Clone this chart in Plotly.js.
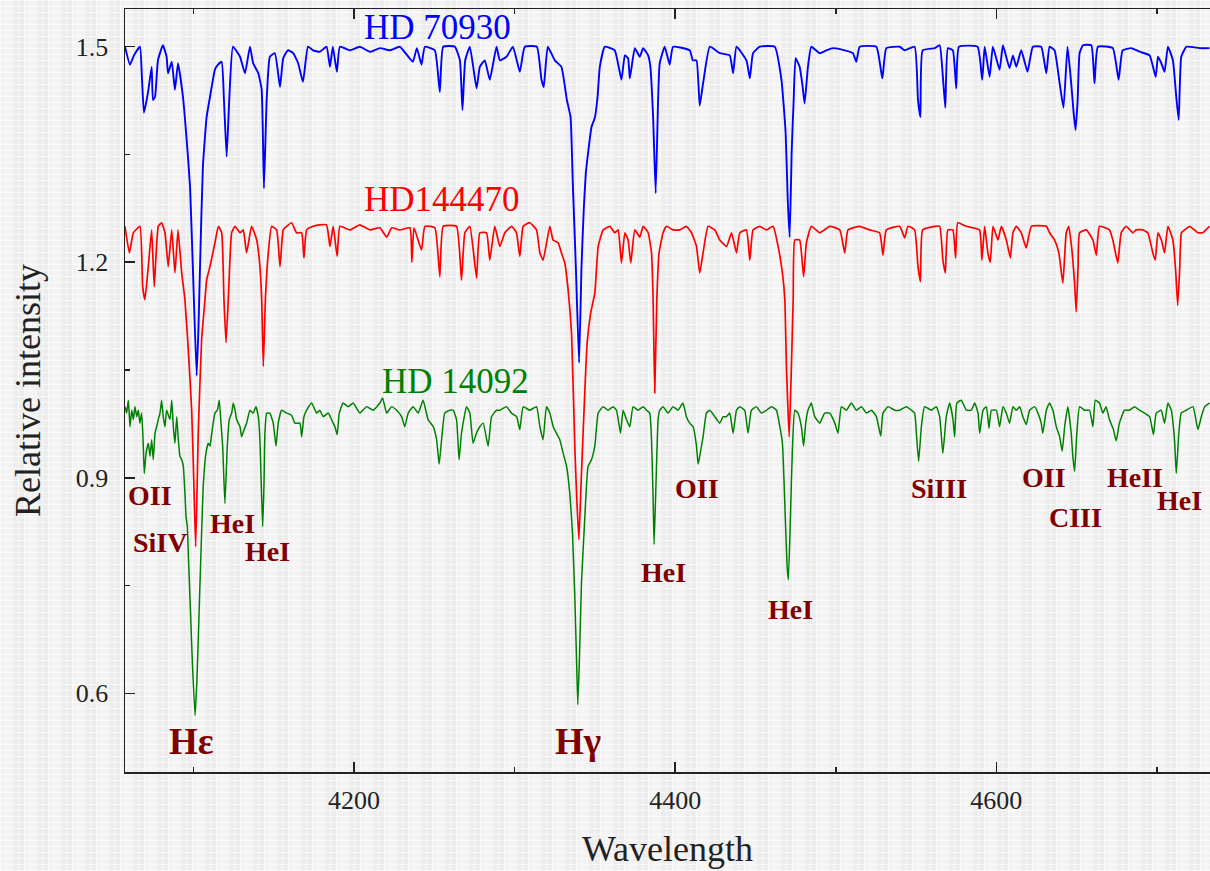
<!DOCTYPE html>
<html>
<head>
<meta charset="utf-8">
<script src="https://cdn.plot.ly/plotly-3.0.1.min.js"></script>
<style>
html,body{margin:0;padding:0;}
body{
  width:1210px;height:871px;overflow:hidden;
  background-color:#ececec;
  background-image:
    repeating-linear-gradient(90deg, rgba(255,255,255,0.55) 0px, rgba(255,255,255,0.55) 1px, transparent 1px, transparent 6px),
    repeating-linear-gradient(0deg, rgba(255,255,255,0.55) 0px, rgba(255,255,255,0.55) 1px, transparent 1px, transparent 6px),
    repeating-linear-gradient(90deg, rgba(255,255,255,0.35) 0px, rgba(255,255,255,0.35) 12px, transparent 12px, transparent 24px);
}
#chart{width:1210px;height:871px;}
</style>
</head>
<body>
<div id="chart"></div>
<script>
// ---------- HD 70930 (blue) ----------
const wl_blue = [4057.5,4060.6,4063.1,4066.8,4068.1,4069.3,4071.8,4074.1,4074.9,4076.2,4078.0,4081.1,4083.4,4084.3,4086.6,4088.6,4090.5,4093.6,4095.9,4098.0,4099.8,4102.1,4103.2,4104.2,4106.0,4108.3,4110.4,4113.5,4115.4,4117.7,4119.1,4120.8,4122.4,4124.7,4129.1,4132.2,4135.3,4137.3,4140.5,4142.6,4144.0,4145.7,4147.7,4150.8,4154.0,4156.0,4158.9,4162.2,4165.3,4168.3,4171.4,4174.5,4178.8,4183.0,4185.1,4186.9,4189.4,4191.3,4197.5,4203.7,4210.0,4216.2,4222.4,4228.6,4236.7,4239.2,4242.1,4244.2,4250.4,4253.5,4255.6,4262.9,4266.0,4267.6,4269.3,4272.2,4276.4,4278.4,4281.5,4284.6,4288.8,4290.9,4295.0,4299.0,4303.3,4306.4,4313.9,4316.8,4318.2,4320.7,4325.1,4329.2,4332.6,4334.9,4336.3,4338.2,4340.2,4341.7,4343.1,4344.4,4345.8,4347.9,4350.0,4351.7,4353.1,4356.2,4362.4,4366.6,4368.7,4370.7,4371.8,4374.9,4378.0,4380.1,4383.2,4384.6,4386.3,4387.9,4389.4,4390.4,4393.5,4396.6,4398.7,4409.1,4411.0,4413.3,4415.3,4417.4,4421.6,4427.8,4434.0,4436.1,4438.2,4444.4,4446.5,4448.5,4452.7,4462.0,4466.2,4468.8,4470.1,4471.3,4472.6,4473.8,4475.0,4477.5,4479.4,4480.6,4482.7,4484.8,4490.0,4494.2,4498.3,4505.6,4510.7,4512.8,4514.9,4525.3,4529.0,4531.5,4539.8,4542.9,4549.1,4551.2,4552.7,4554.1,4561.6,4564.7,4566.7,4568.2,4569.8,4572.9,4575.0,4576.7,4588.3,4591.2,4592.7,4595.8,4597.8,4602.0,4604.1,4608.2,4610.3,4612.4,4615.5,4619.4,4622.7,4627.9,4631.1,4633.1,4636.2,4639.4,4641.8,4644.3,4646.6,4648.1,4649.3,4650.6,4651.8,4653.9,4659.1,4661.1,4663.2,4672.5,4676.1,4678.6,4684.0,4689.2,4695.4,4699.2,4700.6,4702.7,4704.7,4706.8,4709.9,4712.0,4713.5,4715.1,4718.3,4726.5,4732.7];
const fx_blue = [1.500,1.475,1.488,1.500,1.454,1.408,1.436,1.472,1.426,1.430,1.481,1.502,1.486,1.463,1.479,1.440,1.477,1.430,1.370,1.305,1.189,1.042,1.106,1.193,1.333,1.402,1.430,1.468,1.475,1.479,1.426,1.347,1.426,1.500,1.486,1.463,1.500,1.477,1.463,1.440,1.303,1.426,1.486,1.491,1.444,1.484,1.495,1.491,1.477,1.451,1.500,1.495,1.493,1.500,1.472,1.500,1.465,1.500,1.495,1.500,1.493,1.498,1.495,1.500,1.479,1.498,1.475,1.500,1.495,1.437,1.500,1.500,1.481,1.412,1.481,1.500,1.442,1.472,1.481,1.454,1.500,1.481,1.486,1.500,1.465,1.500,1.500,1.454,1.444,1.500,1.481,1.472,1.426,1.402,1.310,1.193,1.060,1.193,1.273,1.324,1.352,1.388,1.401,1.430,1.472,1.500,1.495,1.454,1.488,1.484,1.456,1.498,1.486,1.498,1.488,1.472,1.402,1.296,1.426,1.477,1.500,1.475,1.500,1.495,1.481,1.481,1.418,1.449,1.500,1.491,1.488,1.463,1.500,1.481,1.456,1.491,1.500,1.500,1.454,1.380,1.287,1.235,1.356,1.426,1.484,1.472,1.444,1.421,1.472,1.500,1.491,1.495,1.498,1.495,1.491,1.479,1.500,1.500,1.456,1.498,1.500,1.495,1.500,1.426,1.402,1.495,1.498,1.502,1.458,1.415,1.498,1.495,1.442,1.500,1.500,1.454,1.500,1.458,1.500,1.468,1.502,1.470,1.488,1.472,1.495,1.465,1.500,1.500,1.463,1.500,1.495,1.449,1.415,1.500,1.449,1.408,1.384,1.426,1.491,1.502,1.502,1.449,1.500,1.498,1.454,1.495,1.498,1.493,1.488,1.458,1.486,1.477,1.465,1.500,1.481,1.430,1.398,1.486,1.500,1.498,1.498];

// ---------- HD144470 (red) ----------
const wl_red = [4057.5,4060.2,4062.7,4066.8,4068.5,4069.9,4072.0,4074.1,4075.7,4078.2,4080.3,4082.4,4084.4,4086.6,4088.6,4090.5,4092.8,4094.8,4096.9,4099.0,4100.3,4101.5,4102.5,4103.1,4105.2,4107.3,4108.3,4110.4,4113.5,4115.6,4117.7,4119.1,4120.4,4121.8,4123.9,4126.0,4129.1,4131.1,4133.2,4136.3,4139.5,4141.5,4142.6,4143.6,4144.9,4146.7,4148.8,4151.9,4154.0,4156.0,4158.1,4161.2,4164.3,4167.5,4168.9,4170.6,4174.7,4178.8,4183.0,4185.1,4187.1,4189.6,4191.3,4197.5,4203.7,4210.0,4216.2,4220.4,4223.6,4228.6,4234.9,4236.1,4237.4,4242.1,4244.2,4250.4,4253.5,4255.6,4263.9,4267.0,4269.1,4272.2,4276.4,4278.4,4282.6,4284.6,4287.7,4290.9,4294.0,4298.1,4301.2,4303.3,4305.4,4309.5,4313.7,4315.8,4317.8,4322.0,4324.0,4327.2,4329.2,4331.3,4333.4,4335.5,4337.6,4338.8,4340.1,4341.3,4342.7,4345.2,4347.4,4350.0,4352.1,4355.2,4359.4,4362.4,4364.5,4366.6,4368.7,4370.7,4372.4,4374.9,4378.0,4380.1,4383.2,4385.3,4386.3,4387.3,4388.6,4390.0,4392.5,4394.6,4398.7,4402.9,4407.0,4410.2,4413.3,4415.3,4417.4,4420.5,4424.7,4427.8,4432.0,4435.1,4438.2,4440.3,4444.4,4446.5,4448.5,4452.7,4456.8,4461.0,4464.1,4466.8,4468.3,4469.3,4471.0,4472.4,4473.5,4474.5,4477.5,4480.0,4481.7,4484.8,4490.0,4496.2,4502.5,4505.6,4507.6,4514.9,4521.1,4527.3,4529.4,4531.5,4539.8,4542.9,4545.0,4549.1,4551.2,4552.7,4554.1,4561.6,4564.7,4566.7,4568.2,4569.8,4572.9,4574.6,4576.0,4581.3,4589.5,4591.0,4592.7,4594.7,4596.2,4597.9,4601.0,4603.1,4606.2,4608.7,4610.3,4612.4,4615.5,4618.6,4621.8,4631.1,4633.1,4636.2,4638.9,4641.4,4643.5,4645.1,4647.2,4648.7,4649.7,4650.8,4651.8,4656.0,4660.1,4662.2,4664.2,4670.4,4672.5,4675.6,4677.7,4680.8,4685.0,4687.0,4691.2,4694.3,4697.4,4698.9,4700.6,4702.7,4704.7,4706.8,4709.9,4711.6,4712.9,4714.1,4715.2,4717.2,4720.3,4725.5,4728.4,4732.7];
const fx_red = [1.250,1.213,1.241,1.250,1.166,1.148,1.194,1.245,1.166,1.250,1.255,1.241,1.194,1.245,1.185,1.245,1.185,1.148,1.078,0.995,0.897,0.804,0.897,0.962,1.092,1.148,1.175,1.194,1.227,1.250,1.241,1.148,1.088,1.148,1.241,1.250,1.241,1.245,1.213,1.250,1.231,1.194,1.148,1.055,1.148,1.213,1.250,1.245,1.194,1.245,1.250,1.255,1.241,1.241,1.206,1.245,1.250,1.252,1.252,1.222,1.250,1.208,1.250,1.245,1.252,1.245,1.248,1.235,1.248,1.245,1.248,1.200,1.248,1.217,1.250,1.248,1.180,1.250,1.250,1.175,1.241,1.250,1.178,1.241,1.241,1.203,1.250,1.222,1.241,1.250,1.241,1.208,1.250,1.255,1.245,1.213,1.203,1.250,1.231,1.227,1.213,1.199,1.161,1.101,0.939,0.869,0.814,0.883,0.962,1.087,1.129,1.157,1.222,1.245,1.250,1.241,1.245,1.199,1.241,1.231,1.199,1.245,1.235,1.250,1.241,1.213,1.148,1.018,1.148,1.213,1.241,1.250,1.245,1.245,1.250,1.241,1.222,1.185,1.213,1.250,1.245,1.231,1.222,1.241,1.213,1.241,1.245,1.203,1.245,1.250,1.245,1.250,1.222,1.185,1.148,1.055,0.957,1.055,1.148,1.231,1.231,1.180,1.227,1.250,1.241,1.250,1.245,1.213,1.245,1.250,1.245,1.241,1.210,1.245,1.250,1.234,1.250,1.245,1.194,1.173,1.245,1.250,1.250,1.203,1.185,1.245,1.245,1.206,1.255,1.250,1.245,1.203,1.250,1.213,1.200,1.250,1.231,1.250,1.231,1.206,1.241,1.250,1.241,1.220,1.250,1.250,1.241,1.231,1.213,1.171,1.241,1.250,1.213,1.171,1.131,1.189,1.241,1.245,1.231,1.210,1.250,1.245,1.231,1.199,1.241,1.250,1.241,1.245,1.245,1.241,1.213,1.203,1.241,1.231,1.213,1.250,1.231,1.189,1.140,1.189,1.241,1.245,1.250,1.241,1.241,1.250];

// ---------- HD 14092 (green) ----------
const wl_green = [4057.5,4058.5,4059.6,4060.6,4061.7,4062.7,4063.7,4064.8,4065.8,4066.8,4067.9,4068.9,4069.5,4070.6,4072.0,4073.1,4074.1,4075.1,4076.2,4077.2,4078.2,4079.3,4080.3,4081.3,4082.4,4083.4,4085.5,4086.6,4087.6,4088.6,4089.7,4090.7,4091.7,4092.8,4093.8,4094.8,4095.5,4096.3,4096.9,4098.0,4099.5,4101.1,4102.3,4104.2,4105.2,4106.2,4107.9,4109.3,4110.4,4111.5,4113.5,4115.0,4116.2,4117.1,4118.3,4119.7,4121.2,4122.4,4123.9,4124.9,4126.0,4127.0,4129.1,4130.1,4131.6,4133.2,4135.3,4137.3,4139.0,4140.5,4141.5,4142.3,4143.2,4144.0,4144.6,4145.7,4147.7,4149.8,4151.5,4152.9,4155.0,4158.1,4161.2,4163.3,4166.4,4167.5,4168.9,4170.6,4173.7,4176.8,4178.8,4180.9,4184.0,4186.1,4188.2,4189.6,4190.9,4193.3,4196.5,4199.6,4203.7,4207.9,4212.0,4216.2,4217.9,4220.4,4223.5,4226.6,4229.7,4231.7,4233.8,4236.9,4240.0,4243.1,4246.2,4249.4,4251.5,4253.1,4254.6,4256.6,4259.7,4261.8,4263.9,4265.5,4267.0,4270.1,4272.2,4274.2,4276.3,4278.4,4280.5,4283.6,4285.7,4288.8,4290.9,4295.0,4298.1,4301.3,4303.3,4305.4,4309.5,4313.7,4315.8,4317.8,4319.9,4322.0,4324.1,4326.1,4328.2,4330.3,4332.4,4334.4,4336.1,4337.6,4338.7,4339.4,4340.4,4341.7,4343.8,4345.8,4347.9,4350.0,4352.1,4355.2,4358.3,4361.4,4363.5,4366.0,4367.6,4369.7,4371.8,4373.8,4376.9,4380.1,4382.2,4384.2,4385.3,4386.3,4386.9,4387.8,4388.4,4389.4,4390.4,4392.5,4395.6,4398.7,4401.8,4404.9,4407.0,4409.1,4411.2,4413.3,4414.3,4415.3,4417.4,4419.5,4421.6,4424.7,4427.8,4429.9,4431.9,4434.0,4436.1,4438.2,4440.2,4443.3,4445.4,4447.5,4450.6,4453.7,4456.8,4460.0,4463.1,4465.2,4466.8,4468.2,4469.7,4470.5,4471.8,4473.0,4474.5,4476.5,4478.6,4480.0,4481.3,4482.7,4484.8,4486.9,4490.0,4493.1,4496.2,4499.4,4501.4,4503.5,4506.6,4509.7,4512.9,4516.0,4519.1,4522.2,4525.3,4528.0,4529.4,4532.6,4536.7,4539.8,4544.0,4547.1,4549.1,4550.2,4551.6,4553.3,4555.3,4559.5,4562.6,4564.7,4566.7,4568.8,4570.9,4573.0,4574.0,4575.4,4578.2,4581.3,4584.4,4586.5,4588.6,4589.6,4591.7,4593.8,4595.4,4596.9,4600.0,4602.0,4604.1,4606.2,4608.2,4610.3,4612.4,4614.5,4616.5,4618.6,4620.7,4623.8,4625.9,4627.9,4628.9,4631.1,4633.1,4635.2,4637.3,4639.4,4641.0,4642.5,4644.5,4646.6,4647.6,4648.7,4650.1,4651.8,4654.9,4658.0,4660.1,4661.6,4664.2,4666.3,4668.3,4670.4,4672.9,4674.6,4676.6,4679.8,4682.9,4686.0,4689.1,4692.2,4695.4,4697.8,4699.5,4702.6,4704.7,4706.8,4708.9,4710.9,4712.0,4713.6,4715.1,4718.3,4722.4,4725.5,4727.6,4729.7,4732.7];
const fx_green = [0.999,0.990,1.008,0.971,0.994,0.981,0.999,0.985,0.994,0.976,0.990,0.944,0.906,0.934,0.948,0.930,0.953,0.925,0.962,0.971,0.981,0.990,1.008,0.985,0.971,0.994,0.981,1.008,0.971,0.948,0.985,0.953,0.930,0.925,0.916,0.879,0.846,0.832,0.795,0.730,0.640,0.569,0.619,0.754,0.823,0.888,0.934,0.948,0.944,0.962,0.990,0.994,1.008,0.981,0.944,0.864,0.944,0.981,0.990,1.004,0.994,0.981,0.971,0.957,0.967,0.976,0.994,0.990,0.999,0.985,0.953,0.893,0.832,0.888,0.962,0.990,0.990,0.976,0.944,0.976,0.994,0.990,0.987,0.976,0.976,0.957,0.985,0.994,1.004,0.990,0.994,0.985,0.990,0.981,0.971,0.960,0.990,1.004,0.999,1.004,0.990,0.999,0.994,1.004,1.011,0.990,0.999,0.994,0.985,0.971,0.990,0.999,0.990,1.008,0.981,0.971,0.953,0.919,0.953,0.990,0.994,0.994,0.981,0.925,0.962,0.999,0.990,0.948,0.962,0.971,0.976,0.944,0.985,0.994,0.994,0.999,0.990,0.985,0.967,0.999,0.994,0.999,0.971,0.953,0.999,0.990,0.971,0.962,0.953,0.934,0.916,0.879,0.823,0.730,0.640,0.584,0.647,0.754,0.846,0.916,0.925,0.944,0.990,0.999,0.994,0.999,0.994,0.962,0.994,0.981,0.971,0.999,0.994,0.999,0.994,0.990,0.953,0.870,0.807,0.870,0.916,0.981,0.994,0.999,0.990,0.999,0.994,1.004,0.985,0.976,0.971,0.944,0.919,0.930,0.957,0.990,0.994,0.985,0.976,0.985,0.985,0.990,0.962,0.994,0.999,0.994,0.962,0.994,0.999,0.990,0.994,0.999,0.994,0.971,0.948,0.870,0.777,0.758,0.846,0.939,0.994,0.990,0.971,0.944,0.976,0.994,1.004,0.985,0.976,0.990,0.990,0.976,0.962,0.999,0.994,1.004,0.994,0.999,0.990,0.994,0.985,0.958,0.990,0.999,0.994,0.994,0.999,0.994,0.990,0.962,0.923,0.971,0.999,0.994,0.999,0.985,0.934,0.985,1.004,0.981,0.957,1.004,1.008,0.994,0.994,1.004,0.990,0.962,0.994,0.999,0.969,0.994,0.994,0.971,0.999,0.990,0.976,0.999,0.994,0.999,0.985,0.974,0.994,0.999,0.990,0.976,0.962,0.994,1.004,0.994,0.971,0.957,0.937,0.971,0.999,0.962,0.930,0.909,0.962,0.999,0.994,0.994,0.971,1.008,1.004,0.990,0.999,0.981,0.967,0.951,0.976,0.994,0.994,0.999,0.994,0.990,0.985,0.960,0.990,0.994,0.976,1.004,0.994,0.953,0.906,0.962,0.990,0.994,0.999,0.967,0.985,0.999,1.004];

// ---------- labels ----------
const starNames = ["HD 70930", "HD144470", "HD 14092"];
const starColors = ["#0000ff", "#ff0000", "#008000"];
const starLabelX = [4252.3, 4254.8, 4263.3];
const starLabelY = [1.527, 1.287, 1.034];

const lineNames = ["OII","SiIV","HeI","HeI","Hε","Hγ","OII","HeI","HeI","SiIII","OII","CIII","HeII","HeI"];
const lineX = [4073.1,4079.3,4124.7,4146.5,4099.2,4339.4,4413.5,4392.9,4471.9,4564.1,4629.4,4649.3,4686.6,4714.0];
const lineY = [0.875,0.810,0.836,0.797,0.533,0.533,0.885,0.768,0.716,0.885,0.901,0.845,0.901,0.869];
const lineBig = [false,false,false,false,true,true,false,false,false,false,false,false,false,false];

const xTicks = [4200, 4400, 4600];
const yTicks = [0.6, 0.9, 1.2, 1.5];

const FONT = "Liberation Serif, DejaVu Serif, serif";

const traces = [
  {x: wl_blue, y: fx_blue, name: starNames[0], color: starColors[0], w: 1.9},
  {x: wl_red, y: fx_red, name: starNames[1], color: starColors[1], w: 1.7},
  {x: wl_green, y: fx_green, name: starNames[2], color: starColors[2], w: 1.5}
].map(t => ({type: 'scatter', mode: 'lines', x: t.x, y: t.y, name: t.name,
  line: {color: t.color, width: t.w, shape: 'spline', smoothing: 0.4}, hoverinfo: 'x+y'}));

const annotations = [];
starNames.forEach((n, i) => annotations.push({
  x: starLabelX[i], y: starLabelY[i], xref: 'x', yref: 'y', text: n, showarrow: false,
  xanchor: 'center', yanchor: 'middle', font: {family: FONT, size: 35, color: starColors[i]}
}));
lineNames.forEach((n, i) => annotations.push({
  x: lineX[i], y: lineY[i], xref: 'x', yref: 'y', text: '<b>' + n + '</b>', showarrow: false,
  xanchor: 'center', yanchor: 'middle',
  font: {family: FONT, size: lineBig[i] ? 37 : 28, color: '#800000'}
}));

const layout = {
  width: 1210, height: 871,
  margin: {l: 125, r: 0, t: 9, b: 99, pad: 0},
  paper_bgcolor: 'rgba(0,0,0,0)', plot_bgcolor: 'rgba(0,0,0,0)',
  showlegend: false,
  font: {family: FONT, color: '#222'},
  xaxis: {
    range: [4057.5, 4733], showgrid: false, zeroline: false,
    showline: true, linecolor: '#222', linewidth: 1.5, mirror: 'ticks',
    ticks: 'inside', ticklen: 10, tickwidth: 1.5, tickcolor: '#222',
    tickvals: xTicks, ticktext: xTicks.map(String),
    tickfont: {family: FONT, size: 26, color: '#222'}, ticklabelstandoff: 4,
    minor: {tickvals: [4100, 4300, 4500, 4700], ticks: 'inside', ticklen: 5, tickwidth: 1.5, tickcolor: '#222', showgrid: false},
    title: {text: 'Wavelength', font: {family: FONT, size: 36, color: '#222'}, standoff: 22}
  },
  yaxis: {
    range: [0.4904, 1.5525], showgrid: false, zeroline: false,
    showline: true, linecolor: '#222', linewidth: 1.5, mirror: false,
    ticks: 'inside', ticklen: 10, tickwidth: 1.5, tickcolor: '#222',
    tickvals: yTicks, ticktext: yTicks.map(v => v.toFixed(1)),
    tickfont: {family: FONT, size: 26, color: '#222'}, ticklabelstandoff: 10,
    minor: {tickvals: [0.75, 1.05, 1.35], ticks: 'inside', ticklen: 5, tickwidth: 1.5, tickcolor: '#222', showgrid: false},
    title: {text: 'Relative intensity', font: {family: FONT, size: 36, color: '#222'}, standoff: 24}
  },
  annotations: annotations
};

Plotly.newPlot('chart', traces, layout, {displayModeBar: false, staticPlot: true});
</script>
</body>
</html>
